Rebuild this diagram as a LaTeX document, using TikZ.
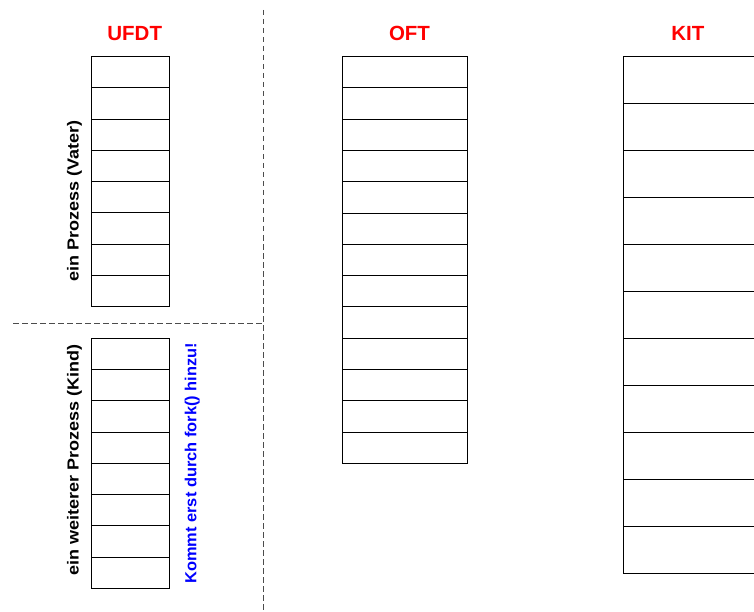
\documentclass[tikz,border=0pt]{standalone}
\usepackage{fontspec}
\setmainfont{Liberation Sans}
\usepackage{xcolor}
\usepackage{tikz}

\begin{document}
\begin{tikzpicture}[x=1pt, y=-1pt,
  cell/.style={draw=black, line width=1pt, minimum width=78pt, minimum height=31.25pt, inner sep=0pt, outer sep=0pt},
  head/.style={text=red, font=\fontsize{20.5}{24}\selectfont\bfseries},
  side/.style={rotate=90, font=\fontsize{16}{19}\selectfont\bfseries, inner sep=0pt, transform shape},
  sep/.style={draw=black!70, line width=1pt, dash pattern=on 5.5pt off 3.5pt}]
\useasboundingbox (0,0) rectangle (754,612);
\clip (0,0) rectangle (754,612);

% Headers
\node[head] (ufdt) at (134.7,33.4) {UFDT};
\node[head] (oft) at (409.5,33.4) {OFT};
\node[head] (kit) at (687.8,33.4) {KIT};

% Tables
\foreach \i in {1,...,8} {
  \node[cell] (up\i) at (130.3, 56.7+31.25*\i-15.625) {};
  \node[cell] (uk\i) at (130.3, 338.3+31.25*\i-15.625) {};
}
\foreach \i in {1,...,13}
  \node[cell, minimum width=125pt, minimum height=31.28pt] (o\i) at (404.5, 56.7+31.28*\i-15.64) {};
\foreach \i in {1,...,11}
  \node[cell, minimum width=140pt, minimum height=46.94pt] (k\i) at (693.7, 56.7+46.94*\i-23.47) {};

% Labels
\node[side, xscale=1.125] (vater) at (74.5,200.8) {ein Prozess (Vater)};
\node[side, xscale=1.125] (kind) at (74.5,460.3) {ein weiterer Prozess (Kind)};
\node[side, xscale=1.025, text=blue] (fork) at (192.2,463.3) {Kommt erst durch fork() hinzu!};

%Lines
\coordinate (vtop) at (263,10);
\coordinate (vbot) at (263,612);
\coordinate (hl) at (13,323);
\coordinate (hr) at (263,323);
\draw[sep] (vtop) -- (vbot);
\draw[sep] (hl) -- (hr);
\end{tikzpicture}
\end{document}
